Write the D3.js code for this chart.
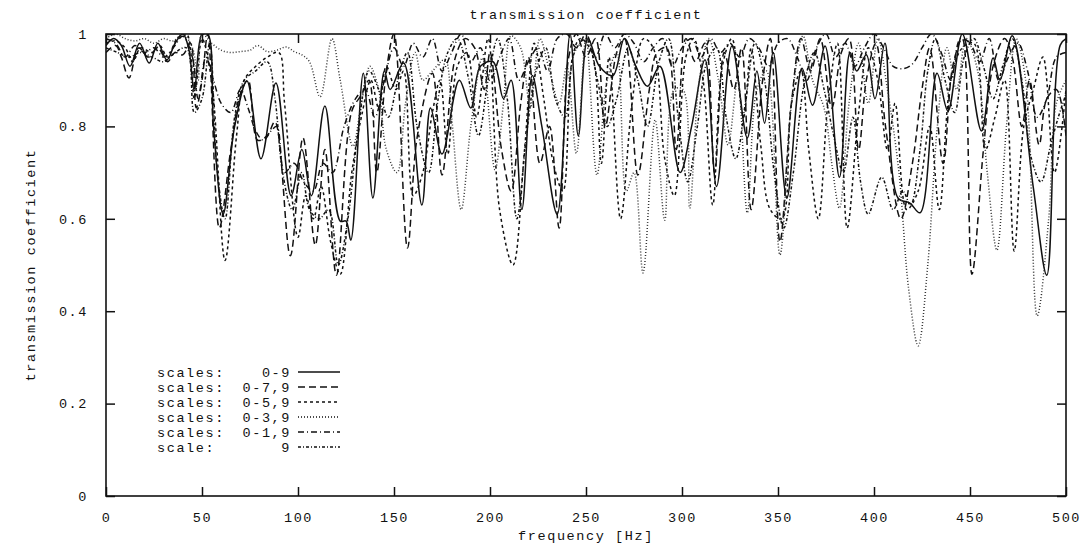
<!DOCTYPE html>
<html>
<head>
<meta charset="utf-8">
<script src="https://cdn.jsdelivr.net/npm/d3@7"></script>
<style>
  body { margin: 0; background: #fff; }
  text { font-family: "Liberation Mono", "DejaVu Sans Mono", monospace; font-size: 13.5px; letter-spacing: 1.6px; fill: #111; }
</style>
</head>
<body>
<div id="chart"></div>
<script>
// frequencies [Hz] and transmission coefficient
const xTicks = [0, 50, 100, 150, 200, 250, 300, 350, 400, 450, 500];
const yTicks = [0, 0.2, 0.4, 0.6, 0.8, 1];

const s0_9 = [[0,0.975],[4,0.99],[8,0.975],[12.5,0.93],[17.5,0.98],[22.5,0.937],[27,0.98],[31.7,0.944],[36,0.98],[40,1],[43,0.97],[46,0.877],[50,1],[53,1],[56,0.8],[61,0.61],[67,0.8],[73.4,0.898],[80.7,0.73],[88.5,0.894],[96.4,0.65],[102,0.75],[107,0.65],[114,0.844],[122,0.595],[125,0.595],[127.5,0.554],[134,0.915],[139,0.645],[145,0.92],[148,0.88],[155,0.937],[164.5,0.63],[169,0.84],[175,0.74],[184,0.9],[190,0.84],[195,0.93],[201.6,0.94],[207,0.86],[211,0.9],[216.6,0.62],[222,0.91],[227,0.8],[235,0.61],[241.7,1],[246,0.78],[251,0.99],[257,0.93],[264,0.91],[270,0.99],[276,0.93],[282,0.887],[288.5,0.93],[299,0.7],[305,0.8],[312,0.944],[318,0.67],[326,0.974],[334,0.775],[339,0.92],[343,0.807],[347.5,0.96],[354.6,0.645],[362.5,0.926],[368,0.846],[374.5,0.974],[382,0.69],[387.5,0.96],[391,0.92],[396,0.955],[400.5,0.86],[405.7,0.98],[412.5,0.645],[418.7,0.634],[424,0.613],[432.8,0.915],[438.5,0.833],[446,1],[456,0.79],[462,0.948],[465.6,0.9],[472,0.996],[483,0.667],[490,0.478],[497,0.976],[500,0.99]];

const s0_79 = [[0,0.96],[5,0.975],[8,0.95],[12,0.905],[17,0.97],[22,0.95],[27,0.97],[32,0.94],[36,0.96],[40,0.955],[44,0.98],[47,0.84],[50,0.9],[53,1],[59,0.58],[65,0.75],[70,0.87],[74,0.9],[79,0.77],[84,0.78],[88,0.81],[96,0.52],[102.6,0.775],[109,0.543],[114,0.75],[120,0.478],[128,0.833],[133,0.868],[137,0.9],[141,0.7],[146,0.92],[150,1],[157,0.537],[162,0.775],[170,0.915],[175,0.695],[182,0.95],[187,0.99],[192,0.97],[197,0.88],[200,0.96],[206,0.75],[211,0.66],[216,0.85],[220,0.95],[226,0.72],[231,0.8],[236,0.58],[241,0.95],[245,1],[250,0.95],[255,0.99],[260,0.8],[266,0.96],[270,0.99],[277,0.695],[283,0.88],[287,0.96],[292,0.97],[297,0.75],[302,0.99],[307,0.94],[312,0.98],[317,0.7],[322,0.96],[327,0.88],[331,0.97],[336,0.62],[342,0.9],[346,0.99],[351,0.55],[357,0.85],[362,0.99],[367,0.92],[372,0.99],[378,0.84],[383,0.96],[387,0.99],[392,0.75],[396,0.9],[401,0.98],[406,0.8],[414,0.6],[420,0.72],[425,0.88],[429,0.97],[436,0.72],[441,0.93],[446,0.99],[451,0.48],[457,0.75],[462,0.93],[468,0.99],[472,0.95],[477,0.8],[481,0.9],[486,0.76],[490,0.86],[495,0.88],[500,0.78]];

const s0_59 = [[0,0.98],[5,0.985],[10,0.97],[14,0.94],[18,0.97],[24,0.96],[28,0.975],[32,0.95],[37,0.99],[42,1],[46,0.86],[50,0.99],[55,0.9],[62,0.51],[68,0.78],[72,0.9],[78,0.93],[84,0.95],[90,0.96],[93,0.85],[100,0.56],[104,0.65],[108,0.6],[112,0.67],[117,0.55],[122,0.48],[128,0.7],[133,0.82],[138,0.9],[142,0.84],[146,0.93],[151,0.88],[155,0.92],[160,0.65],[165,0.7],[170,0.83],[174,0.9],[178,0.74],[183,0.93],[188,0.96],[193,0.82],[199,0.99],[205,0.62],[212,0.5],[218,0.75],[223,0.98],[228,0.86],[233,0.72],[238,0.66],[243,0.95],[247,0.99],[253,0.96],[258,0.72],[262,0.95],[268,0.6],[274,0.85],[280,0.99],[285,0.97],[291,0.73],[296,0.65],[302,0.95],[306,0.99],[311,0.9],[316,0.63],[321,0.93],[326,0.99],[332,0.82],[336,0.97],[341,0.76],[346,0.62],[352,0.6],[357,0.85],[362,0.92],[366,0.75],[371,0.6],[376,0.85],[381,0.98],[386,0.58],[392,0.83],[397,0.97],[402,0.9],[407,0.75],[411,0.85],[417,0.62],[423,0.66],[429,0.8],[434,0.62],[440,0.9],[446,0.97],[452,0.98],[458,0.75],[463,0.82],[468,0.9],[473,0.53],[478,0.8],[483,0.88],[488,0.95],[494,0.7],[500,0.88]];

const s0_39 = [[0,0.99],[5,1],[10,0.99],[15,0.985],[20,0.99],[25,0.98],[30,0.99],[35,0.985],[40,1],[45,0.97],[48,0.9],[50,1],[55,0.98],[60,0.965],[65,0.96],[70,0.962],[75,0.965],[79,0.975],[84,0.962],[89,0.965],[94,0.972],[98,0.962],[102,0.955],[106,0.94],[111.5,0.864],[117.7,0.99],[122,0.9],[128.6,0.757],[133,0.85],[137.5,0.93],[142,0.88],[146,0.75],[151.6,0.7],[156,0.85],[161,0.96],[165,0.9],[170,0.92],[176.5,0.944],[180,0.82],[185,0.62],[190,0.8],[196,0.948],[202.6,0.706],[207,0.85],[211,0.996],[216,0.97],[221,0.84],[226,0.99],[231,0.92],[236,0.85],[240,0.93],[245,0.742],[250,0.99],[255.7,0.695],[261,0.9],[266,0.96],[271,0.66],[275,0.7],[279.7,0.483],[286,0.814],[291,0.597],[296,0.88],[300.5,0.88],[304,0.623],[309,0.9],[314,0.99],[319,0.9],[324,0.76],[329,0.9],[334,0.613],[339,0.88],[344,0.92],[351,0.522],[357,0.85],[363,0.996],[368,0.9],[374,0.84],[378,0.72],[382,0.623],[387,0.85],[392,0.98],[397,0.85],[402,0.99],[407,0.88],[413,0.7],[418,0.45],[423,0.325],[428,0.5],[433,0.8],[438,0.97],[443,0.88],[448,0.99],[454,0.92],[459,0.7],[464,0.532],[469,0.8],[474,0.99],[479,0.9],[485,0.39],[491,0.6],[495,0.85],[500,0.9]];

const s0_19 = [[0,0.99],[5,0.98],[10,0.95],[15,0.975],[20,0.96],[25,0.97],[30,0.95],[35,0.97],[40,0.995],[45,0.95],[48,0.86],[52,0.95],[56,0.9],[60,0.85],[65,0.83],[70,0.88],[74,0.84],[78,0.79],[82,0.77],[86,0.79],[89,0.8],[93,0.7],[98,0.72],[103,0.68],[108,0.66],[113,0.72],[118,0.7],[124,0.8],[130,0.86],[135,0.88],[140,0.82],[145,0.9],[150,0.97],[155,0.93],[160,0.98],[165,0.95],[170,0.99],[175,0.92],[180,0.96],[185,1],[190,0.94],[195,0.97],[200,0.9],[205,0.95],[210,0.99],[215,0.9],[220,0.94],[225,0.97],[230,0.92],[235,0.99],[240,1],[245,0.97],[250,1],[255,0.95],[260,1],[265,0.97],[270,1],[275,0.98],[280,0.94],[285,0.97],[290,0.99],[295,0.93],[300,0.97],[305,0.99],[310,0.95],[315,0.99],[320,0.96],[325,0.98],[330,0.95],[335,0.99],[340,0.97],[345,0.93],[350,0.98],[355,0.99],[360,0.95],[365,0.9],[370,0.97],[375,1],[380,0.95],[385,0.98],[390,0.93],[395,0.97],[400,1],[405,0.97],[410,0.93],[415,0.925],[420,0.935],[425,0.97],[430,1],[435,0.96],[440,0.9],[445,0.99],[450,0.98],[455,0.94],[460,0.99],[465,0.9],[470,0.95],[475,0.98],[480,0.92],[485,0.82],[490,0.86],[495,0.95],[500,0.96]];

const s9 = [[0,0.97],[6,0.96],[12,0.95],[18,0.96],[24,0.95],[30,0.94],[36,0.96],[42,0.97],[46,0.83],[50,0.86],[54,0.98],[58,0.7],[62,0.6],[67,0.82],[72,0.9],[78,0.92],[84,0.94],[88,0.86],[92,0.7],[97,0.62],[102,0.7],[106,0.62],[111,0.6],[116,0.62],[121,0.5],[126,0.6],[131,0.78],[137,0.92],[142,0.88],[147,0.82],[152,0.9],[157,0.96],[162,0.8],[168,0.7],[173,0.86],[178,0.96],[183,0.99],[189,0.9],[194,0.78],[199,0.9],[204,0.99],[209,0.86],[214,0.6],[219,0.78],[224,0.92],[229,0.97],[234,0.86],[239,0.82],[244,0.96],[250,0.99],[256,0.9],[261,0.8],[266,0.86],[272,0.97],[277,0.9],[282,0.8],[288,0.94],[293,0.99],[298,0.82],[303,0.68],[308,0.8],[313,0.94],[318,0.97],[323,0.82],[328,0.73],[333,0.85],[338,0.98],[343,0.9],[348,0.7],[353,0.58],[358,0.7],[364,0.9],[369,0.96],[374,0.88],[379,0.78],[384,0.7],[389,0.82],[393,0.68],[397,0.61],[404,0.69],[410,0.62],[415,0.66],[419,0.63],[424,0.75],[428,0.92],[432,0.99],[437,0.9],[442,0.83],[447,0.95],[452,0.99],[457,0.93],[462,0.86],[467,0.93],[472,0.99],[477,0.9],[482,0.73],[487,0.68],[492,0.76],[496,0.82],[500,0.87]];

const seriesNames = ["0-9", "0-7,9", "0-5,9", "0-3,9", "0-1,9", "9"];
const seriesData = [s0_9, s0_79, s0_59, s0_39, s0_19, s9];
const dashes = [null, "7,4", "3,3", "1,2", "6,3,1,3", "3,2,1,2"];

const width = 1088, height = 547;
const margin = { left: 106, right: 22, top: 34, bottom: 51 };
const innerW = width - margin.left - margin.right;
const innerH = height - margin.top - margin.bottom;

const svg = d3.select("#chart").append("svg")
  .attr("width", width).attr("height", height);

const x = d3.scaleLinear().domain([0, 500]).range([margin.left, margin.left + innerW]);
const y = d3.scaleLinear().domain([0, 1]).range([margin.top + innerH, margin.top]);

svg.append("clipPath").attr("id", "clip")
  .append("rect")
  .attr("x", margin.left).attr("y", margin.top)
  .attr("width", innerW).attr("height", innerH);

// axes, ticks inward on all four sides
const tickLen = 9;
svg.append("g").attr("transform", `translate(0,${margin.top + innerH})`)
  .call(d3.axisBottom(x).tickValues(xTicks).tickSize(-tickLen).tickPadding(tickLen + 7).tickFormat(d3.format("d")))
  .call(g => g.select(".domain").remove());
svg.append("g").attr("transform", `translate(0,${margin.top})`)
  .call(d3.axisTop(x).tickValues(xTicks).tickSize(-tickLen).tickFormat(""))
  .call(g => g.select(".domain").remove());
svg.append("g").attr("transform", `translate(${margin.left},0)`)
  .call(d3.axisLeft(y).tickValues(yTicks).tickSize(-tickLen).tickPadding(tickLen + 9).tickFormat(d => d3.format("")(d)))
  .call(g => g.select(".domain").remove());
svg.append("g").attr("transform", `translate(${margin.left + innerW},0)`)
  .call(d3.axisRight(y).tickValues(yTicks).tickSize(-tickLen).tickFormat(""))
  .call(g => g.select(".domain").remove());
svg.selectAll(".tick line").attr("stroke", "#111").attr("stroke-width", 1.5);
svg.selectAll(".tick text")
  .style("font-family", "'Liberation Mono', monospace")
  .style("font-size", "13.5px")
  .style("letter-spacing", "1.6px")
  .attr("fill", "#111");

const line = d3.line()
  .x(d => x(d[0]))
  .y(d => y(d[1]))
  .curve(d3.curveCatmullRom.alpha(0.5));

const plot = svg.append("g").attr("clip-path", "url(#clip)");
seriesData.forEach((s, i) => {
  plot.append("path")
    .datum(s)
    .attr("fill", "none")
    .attr("stroke", i === 3 ? "#333" : "#111")
    .attr("stroke-width", 1.5)
    .attr("stroke-dasharray", dashes[i])
    .attr("d", line);
});

// frame
svg.append("rect")
  .attr("x", margin.left).attr("y", margin.top)
  .attr("width", innerW).attr("height", innerH)
  .attr("fill", "none").attr("stroke", "#111").attr("stroke-width", 1.6);

// titles
svg.append("text").attr("x", 586).attr("y", 19).attr("text-anchor", "middle").text("transmission coefficient");
svg.append("text").attr("x", 586).attr("y", 540).attr("text-anchor", "middle").text("frequency [Hz]");
svg.append("text").attr("transform", `translate(35,${margin.top + innerH / 2}) rotate(-90)`)
  .attr("text-anchor", "middle").text("transmission coefficient");

// legend
const legend = svg.append("g");
seriesNames.forEach((name, i) => {
  const ly = 372 + i * 15;
  legend.append("text").attr("x", 157).attr("y", ly + 5).text(i === 5 ? "scale:" : "scales:");
  legend.append("text").attr("x", 291).attr("y", ly + 5).attr("text-anchor", "end").text(name);
  legend.append("line")
    .attr("x1", 298).attr("x2", 340).attr("y1", ly).attr("y2", ly)
    .attr("stroke", "#111").attr("stroke-width", 1.5)
    .attr("stroke-dasharray", dashes[i]);
});
</script>
</body>
</html>
